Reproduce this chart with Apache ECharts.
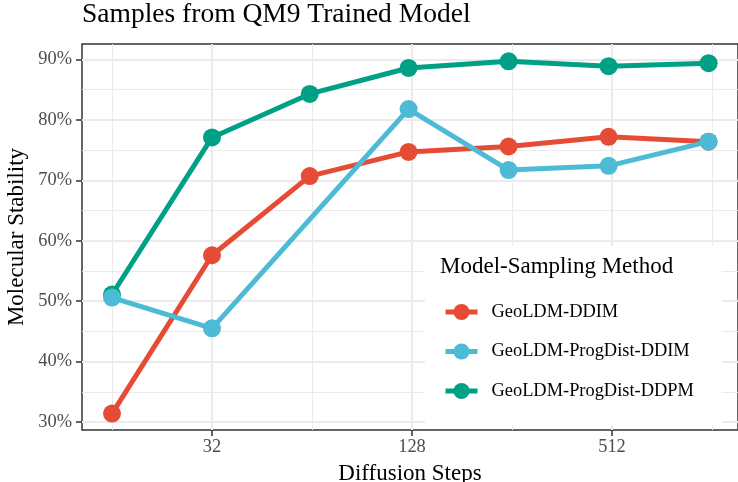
<!DOCTYPE html>
<html>
<head>
<meta charset="utf-8">
<script src="https://cdn.jsdelivr.net/npm/echarts@6/dist/echarts.min.js"></script>
<style>html,body{margin:0;padding:0;background:#fff}#c{width:738px;height:482px}</style>
</head>
<body>
<div id="c"></div>
<script>
// ---- data ----
const steps = [16, 32, 63, 125, 250, 500, 1000];
const seriesNames = ['GeoLDM-DDIM', 'GeoLDM-ProgDist-DDIM', 'GeoLDM-ProgDist-DDPM'];
const ddim = [31.4, 57.6, 70.7, 74.7, 75.6, 77.2, 76.4];
const progDistDdim = [50.6, 45.5, null, 81.8, 71.7, 72.4, 76.4];
const progDistDdpm = [51.1, 77.1, 84.3, 88.6, 89.7, 88.9, 89.4];
const xTickExponents = [5, 7, 9];          // 32, 128, 512
const yTicks = [30, 40, 50, 60, 70, 80, 90];
const colors = ['#E64B35', '#4DBBD5', '#00A087'];

const FONT = 'Liberation Serif';
const pairs = vals => steps.map((s, i) => [s, vals[i]]).filter(p => p[1] !== null);

const chart = echarts.init(document.getElementById('c'));

const lineSeries = (name, vals, color, z) => ({
  name, type: 'line', xAxisIndex: 0, yAxisIndex: 0, data: pairs(vals),
  color, symbol: 'circle', symbolSize: 18, lineStyle: { width: 5 }, z
});

chart.setOption({
  animation: false,
  backgroundColor: '#fff',
  title: {
    text: 'Samples from QM9 Trained Model',
    left: 82, top: 1, padding: 0,
    textStyle: { fontFamily: FONT, fontSize: 27.5, fontWeight: 'normal', color: '#000' }
  },
  grid: [
    { left: 82, right: 0, top: 44, bottom: 52, show: true, borderColor: '#333', borderWidth: 1.5, backgroundColor: 'transparent' },
    { left: 112, right: 26, top: 44, bottom: 52 },
    { left: 212, right: 126, top: 44, bottom: 52 },
    { left: 82, right: 0, top: 59.5, bottom: 60 }
  ],
  xAxis: [
    { gridIndex: 0, type: 'log', logBase: 2, min: Math.pow(2, 3.7), max: Math.pow(2, 10.26),
      axisLine: { show: false }, axisTick: { show: false }, axisLabel: { show: false }, splitLine: { show: false } },
    { gridIndex: 1, type: 'value', min: 4, max: 10, interval: 1,
      axisLine: { show: false }, axisTick: { show: false }, axisLabel: { show: false },
      splitLine: { show: true, lineStyle: { color: '#EBEBEB', width: 1 } } },
    { gridIndex: 2, type: 'value', min: xTickExponents[0], max: xTickExponents[xTickExponents.length - 1], interval: 2,
      axisLine: { show: false },
      axisTick: { show: true, length: 6, lineStyle: { color: '#333', width: 1.5 } },
      axisLabel: { show: true, margin: 8, formatter: v => String(Math.pow(2, v)),
        fontFamily: FONT, fontSize: 18.4, color: '#4D4D4D' },
      splitLine: { show: true, lineStyle: { color: '#EBEBEB', width: 2 } } },
    { gridIndex: 3, type: 'value', show: false }
  ],
  yAxis: [
    { gridIndex: 0, type: 'value', min: 28.676, max: 92.566,
      axisLine: { show: false }, axisTick: { show: false }, axisLabel: { show: false }, splitLine: { show: false } },
    { gridIndex: 1, type: 'value', show: false },
    { gridIndex: 2, type: 'value', show: false },
    { gridIndex: 3, type: 'value', min: yTicks[0], max: yTicks[yTicks.length - 1], interval: 10,
      axisLine: { show: false },
      axisTick: { show: true, length: 6, lineStyle: { color: '#333', width: 1.5 } },
      axisLabel: { show: true, margin: 10, formatter: '{value}%', fontFamily: FONT, fontSize: 18.4, color: '#4D4D4D' },
      splitLine: { show: true, lineStyle: { color: '#EBEBEB', width: 2 } },
      minorTick: { show: false, splitNumber: 2 },
      minorSplitLine: { show: true, lineStyle: { color: '#EBEBEB', width: 1 } } }
  ],
  legend: {
    orient: 'vertical', left: 443, top: 303, padding: 0,
    itemWidth: 32, itemHeight: 20, itemGap: 21.5,
    data: seriesNames,
    lineStyle: { width: 5 },
    textStyle: { fontFamily: FONT, fontSize: 18.4, color: '#000', padding: [0, 0, 0, 9] }
  },
  graphic: [
    { type: 'rect', z: 1, shape: { x: 425, y: 246, width: 297, height: 179 }, style: { fill: '#fff' } },
    { type: 'text', z: 5, x: 440, y: 267, style: { text: 'Model-Sampling Method', font: '23px "Liberation Serif"', fill: '#000', textVerticalAlign: 'middle' } },
    { type: 'text', z: 5, x: 410, y: 474, style: { text: 'Diffusion Steps', font: '23px "Liberation Serif"', fill: '#000', textAlign: 'center', textVerticalAlign: 'middle' } },
    { type: 'text', z: 5, x: 17, y: 237, rotation: Math.PI / 2, style: { text: 'Molecular Stability', font: '23px "Liberation Serif"', fill: '#000', textAlign: 'center', textVerticalAlign: 'middle' } }
  ],
  series: [
    lineSeries(seriesNames[0], ddim, colors[0], 2),
    lineSeries(seriesNames[2], progDistDdpm, colors[2], 3),
    lineSeries(seriesNames[1], progDistDdim, colors[1], 4)
  ]
});
</script>
</body>
</html>
